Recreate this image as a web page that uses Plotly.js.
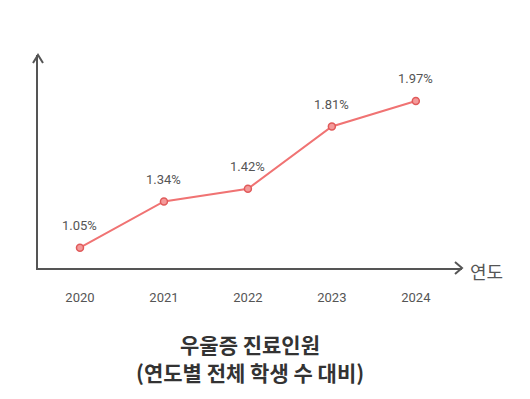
<!DOCTYPE html>
<html><head><meta charset="utf-8">
<script src="https://cdn.plot.ly/plotly-3.0.1.min.js"></script>
<style>html,body{margin:0;padding:0;background:#fff;}#chart{width:530px;height:399px;}</style>
</head><body><div id="chart"></div>
<script>
const years = [2020, 2021, 2022, 2023, 2024];
const yearLabels = ['2020', '2021', '2022', '2023', '2024'];
const rates = [1.05, 1.34, 1.42, 1.81, 1.97];
const rateLabels = ['1.05%', '1.34%', '1.42%', '1.81%', '1.97%'];
const xAxisLabel = '연도';
const titleLines = ['우울증 진료인원', '(연도별 전체 학생 수 대비)'];

const axisColor = '#555555';
const trace = {
  x: years, y: rates, type: 'scatter', mode: 'lines+markers',
  line: {color: '#f07373', width: 2},
  marker: {size: 7, color: '#f49a9a', line: {color: '#e05a5a', width: 1.5}},
  hoverinfo: 'skip', cliponaxis: false
};
const labelAnns = years.map((yr, i) => ({
  x: yr, y: rates[i], xref: 'x', yref: 'y', text: rateLabels[i], showarrow: false,
  yshift: 22, font: {family: 'Roboto, sans-serif', size: 13, color: '#555555'}
}));
const layout = {
  width: 530, height: 399,
  margin: {l: 38, r: 68, t: 55, b: 131},
  paper_bgcolor: '#ffffff', plot_bgcolor: '#ffffff',
  showlegend: false,
  xaxis: {
    range: [2019.5, 2024.55], tickvals: years, ticktext: yearLabels,
    showgrid: false, zeroline: false, showline: true, linecolor: axisColor, linewidth: 2,
    ticks: '', ticklabelstandoff: 16,
    tickfont: {family: 'Roboto, sans-serif', size: 13, color: '#555555'}
  },
  yaxis: {
    range: [0.923, 2.258], showgrid: false, zeroline: false, showline: true,
    linecolor: axisColor, linewidth: 2, showticklabels: false, ticks: ''
  },
  shapes: [
    {type: 'path', xref: 'paper', yref: 'paper', xsizemode: 'pixel', ysizemode: 'pixel',
     xanchor: 0, yanchor: 1, path: 'M-5,-8 L0,0 L5,-8', line: {color: axisColor, width: 2}},
    {type: 'path', xref: 'paper', yref: 'paper', xsizemode: 'pixel', ysizemode: 'pixel',
     xanchor: 1, yanchor: 0, path: 'M-7,6 L0,0 L-7,-6', line: {color: axisColor, width: 2}}
  ],
  annotations: labelAnns.concat([
    {x: 1, y: 0, xref: 'paper', yref: 'paper', xanchor: 'left', yanchor: 'middle', xshift: 6, yshift: -3,
     text: xAxisLabel, showarrow: false,
     font: {family: 'Noto Sans CJK KR, sans-serif', size: 18, color: '#555555'}},
    {x: 0.5, y: 0, xref: 'paper', yref: 'paper', xanchor: 'center', yanchor: 'middle', yshift: -76,
     text: '<b>' + titleLines[0] + '</b>', showarrow: false,
     font: {family: 'Noto Sans CJK KR, sans-serif', size: 21, color: '#333333'}},
    {x: 0.5, y: 0, xref: 'paper', yref: 'paper', xanchor: 'center', yanchor: 'middle', yshift: -104,
     text: '<b>' + titleLines[1] + '</b>', showarrow: false,
     font: {family: 'Noto Sans CJK KR, sans-serif', size: 21, color: '#333333'}}
  ])
};
Plotly.newPlot('chart', [trace], layout, {displayModeBar: false, staticPlot: true});
</script></body></html>
